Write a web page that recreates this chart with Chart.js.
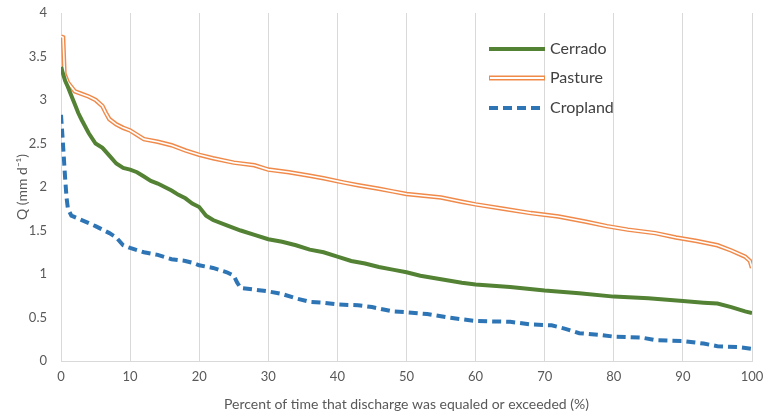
<!DOCTYPE html>
<html>
<head>
<meta charset="utf-8">
<script src="https://cdn.jsdelivr.net/npm/chart.js@4/dist/chart.umd.min.js"></script>
<style>
  html, body { margin: 0; padding: 0; background: #fff; }
  #wrap { width: 764px; height: 413px; position: relative; }
</style>
</head>
<body>
<div id="wrap"><canvas id="fdc"></canvas></div>
<script>
// flow duration curves
const seriesNames = ['Cerrado', 'Pasture', 'Cropland'];
const xTicks = [0, 10, 20, 30, 40, 50, 60, 70, 80, 90, 100];
const yTicks = [0, 0.5, 1, 1.5, 2, 2.5, 3, 3.5, 4];

const cerradoX = [0, 0.3, 0.6, 1, 1.5, 2, 2.5, 3, 4, 5, 6, 7, 8, 9, 10, 11, 12, 13, 14, 15, 16, 17, 18, 19, 20, 21, 22, 24, 26, 28, 30, 32, 34, 36, 38, 40, 42, 44, 46, 48, 50, 52, 55, 58, 60, 65, 70, 75, 80, 85, 90, 93, 95, 97, 99, 100];
const cerradoY = [3.38, 3.3, 3.22, 3.15, 3.05, 2.95, 2.85, 2.77, 2.62, 2.5, 2.45, 2.36, 2.27, 2.22, 2.2, 2.17, 2.12, 2.07, 2.04, 2.0, 1.96, 1.91, 1.87, 1.81, 1.77, 1.67, 1.62, 1.56, 1.5, 1.45, 1.4, 1.37, 1.33, 1.28, 1.25, 1.2, 1.15, 1.12, 1.08, 1.05, 1.02, 0.98, 0.94, 0.9, 0.88, 0.85, 0.81, 0.78, 0.74, 0.72, 0.69, 0.67, 0.66, 0.62, 0.57, 0.55];

const pastureX = [0, 0.3, 0.5, 1, 2, 3, 4, 5, 6, 6.5, 7, 8, 9, 10, 11, 12, 14, 16, 18, 20, 22, 25, 28, 30, 33, 36, 38, 41, 43, 46, 48, 50, 55, 58, 60, 64, 68, 72, 76, 79, 82, 86, 89, 92, 95, 97, 99, 99.7, 100];
const pastureY = [3.73, 3.72, 3.3, 3.2, 3.1, 3.07, 3.04, 3.0, 2.93, 2.85, 2.78, 2.72, 2.68, 2.65, 2.6, 2.55, 2.52, 2.48, 2.42, 2.37, 2.33, 2.28, 2.25, 2.2, 2.17, 2.13, 2.1, 2.05, 2.02, 1.98, 1.95, 1.92, 1.88, 1.83, 1.8, 1.75, 1.7, 1.66, 1.6, 1.55, 1.51, 1.47, 1.42, 1.38, 1.33, 1.27, 1.2, 1.15, 1.07];

const croplandX = [0, 0.2, 0.4, 0.6, 0.8, 1, 1.5, 3, 5, 7, 8, 9, 10, 12, 14, 16, 18, 19, 20, 22, 24, 25, 25.5, 26, 28, 30, 32, 34, 36, 38, 40, 43, 45, 48, 50, 53, 56, 60, 65, 68, 71, 73, 75, 78, 80, 84, 86, 90, 93, 95, 98, 100];
const croplandY = [2.83, 2.6, 2.35, 2.1, 1.88, 1.75, 1.67, 1.62, 1.55, 1.47, 1.42, 1.33, 1.3, 1.25, 1.22, 1.17, 1.15, 1.13, 1.1, 1.07, 1.02, 0.98, 0.9, 0.84, 0.82, 0.8, 0.77, 0.72, 0.68, 0.67, 0.65, 0.64, 0.62, 0.57, 0.56, 0.54, 0.5, 0.46, 0.45, 0.42, 0.41, 0.37, 0.32, 0.3, 0.28, 0.27, 0.24, 0.23, 0.2, 0.17, 0.16, 0.14];

function pts(xs, ys) {
    return xs.map(function (x, i) { return { x: x, y: ys[i] }; });
}

const green = '#548235';
const orange = '#F08A4B';
const blue = '#2E75B6';
const fontFam = 'Lato, "Open Sans", sans-serif';
const tickFont = { family: fontFam, size: 13 };

// legend drawn inside the plot, top right
const insideLegend = {
    id: 'insideLegend',
    afterDraw: function (chart) {
        const c = chart.ctx;
        const x0 = 489, len = 56;
        const rows = [49, 78, 108];
        c.save();
        c.lineCap = 'butt';
        // Cerrado
        c.strokeStyle = green; c.lineWidth = 4; c.setLineDash([]);
        c.beginPath(); c.moveTo(x0, rows[0]); c.lineTo(x0 + len, rows[0]); c.stroke();
        // Pasture (double line)
        c.strokeStyle = orange; c.lineWidth = 5;
        c.beginPath(); c.moveTo(x0, rows[1]); c.lineTo(x0 + len, rows[1]); c.stroke();
        c.strokeStyle = '#fff'; c.lineWidth = 2;
        c.beginPath(); c.moveTo(x0 + 1, rows[1]); c.lineTo(x0 + len - 1, rows[1]); c.stroke();
        // Cropland
        c.strokeStyle = blue; c.lineWidth = 4; c.setLineDash([9, 5]);
        c.beginPath(); c.moveTo(x0, rows[2]); c.lineTo(x0 + len, rows[2]); c.stroke();
        c.setLineDash([]);
        c.fillStyle = '#404040';
        c.font = '16px ' + fontFam;
        c.textBaseline = 'middle';
        seriesNames.forEach(function (n, i) { c.fillText(n, x0 + len + 5, rows[i]); });
        c.restore();
    }
};

const fdcData = {
    datasets: [
        {
            label: seriesNames[2],
            data: pts(croplandX, croplandY),
            borderColor: blue,
            borderWidth: 4,
            borderDash: [9, 5],
            pointRadius: 0,
            tension: 0
        },
        {
            label: seriesNames[0],
            data: pts(cerradoX, cerradoY),
            borderColor: green,
            borderWidth: 4,
            pointRadius: 0,
            tension: 0
        },
        {
            label: seriesNames[1] + ' inner',
            data: pts(pastureX, pastureY),
            borderColor: '#ffffff',
            borderWidth: 1.6,
            pointRadius: 0,
            tension: 0
        },
        {
            label: seriesNames[1],
            data: pts(pastureX, pastureY),
            borderColor: orange,
            borderWidth: 4.5,
            pointRadius: 0,
            tension: 0
        }
    ]
};

const fdcConfig = {
    type: 'line',
    data: fdcData,
    options: {
        responsive: true,
        maintainAspectRatio: false,
        animation: false,
        layout: { padding: { top: 0, right: 0, left: 14, bottom: 0 } },
        plugins: {
            legend: { display: false },
            tooltip: { enabled: false }
        },
        scales: {
            x: {
                type: 'linear',
                min: 0,
                max: 100,
                afterBuildTicks: function (s) { s.ticks = xTicks.map(function (v) { return { value: v }; }); },
                afterFit: function (s) { s.height = 52; s.paddingLeft = 0; s.paddingRight = 12; },
                grid: { color: '#d9d9d9', lineWidth: 1, drawTicks: false },
                border: { color: '#d9d9d9', width: 1 },
                ticks: { color: '#595959', font: tickFont, padding: 8, maxRotation: 0 },
                title: {
                    display: true,
                    text: 'Percent of time that discharge was equaled or exceeded (%)',
                    color: '#595959',
                    font: { family: fontFam, size: 14 },
                    padding: { top: 4, bottom: 0 }
                }
            },
            y: {
                min: 0,
                max: 4,
                afterBuildTicks: function (s) { s.ticks = yTicks.map(function (v) { return { value: v }; }); },
                afterFit: function (s) { s.width = 47; s.paddingTop = 13; s.paddingBottom = 0; },
                grid: { display: false, drawTicks: false },
                border: { display: false },
                ticks: {
                    color: '#595959',
                    font: tickFont,
                    padding: 14,
                    callback: function (v) { return String(v); }
                },
                title: {
                    display: true,
                    text: 'Q (mm d\u207B\u00B9)',
                    color: '#595959',
                    font: { family: fontFam, size: 14 },
                    padding: { top: 0, bottom: 2 }
                }
            }
        }
    },
    plugins: [insideLegend]
};

new Chart(document.getElementById('fdc').getContext('2d'), fdcConfig);
</script>
</body>
</html>
